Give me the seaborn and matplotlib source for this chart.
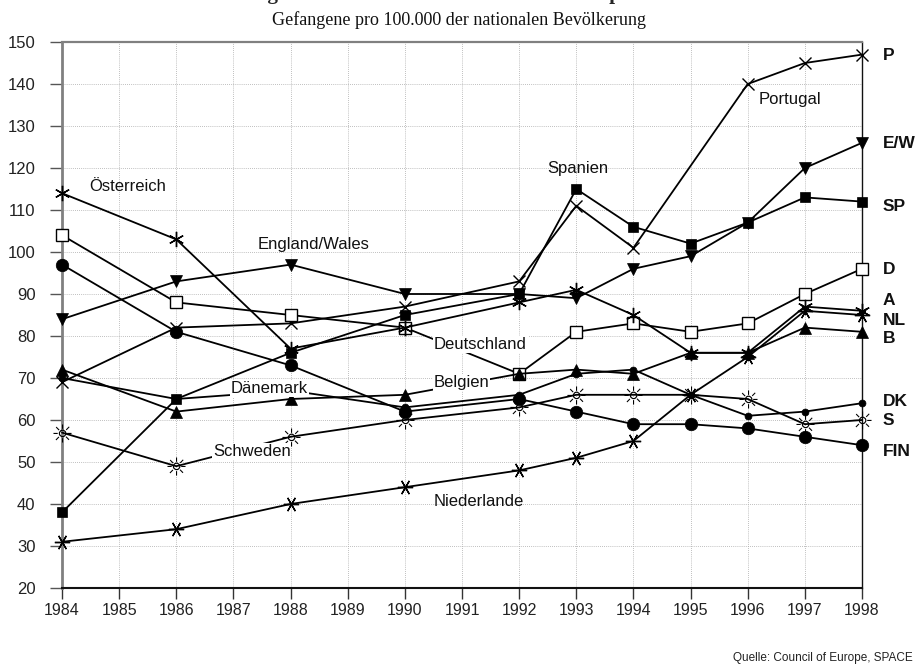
import numpy as np
import pandas as pd
import matplotlib
matplotlib.use("Agg")
import matplotlib.pyplot as plt
import seaborn as sns

# ---------------- data ----------------
years = [1984, 1986, 1988, 1990, 1992, 1993, 1994, 1995, 1996, 1997, 1998]
portugal = [69, 82, 83, 87, 93, 111, 101, None, 140, 145, 147]
england_wales = [84, 93, 97, 90, 90, 89, 96, 99, 107, 120, 126]
spanien = [38, 65, 76, 85, 90, 115, 106, 102, 107, 113, 112]
deutschland = [104, 88, 85, 82, 71, 81, 83, 81, 83, 90, 96]
oesterreich = [114, 103, 77, 82, 88, 91, 85, 76, 76, 87, 86]
niederlande = [31, 34, 40, 44, 48, 51, 55, 66, 75, 86, 85]
belgien = [72, 62, 65, 66, 71, 72, 71, 76, 76, 82, 81]
daenemark = [70, 65, 67, 63, 66, 71, 72, 66, 61, 62, 64]
schweden = [57, 49, 56, 60, 63, 66, 66, 66, 65, 59, 60]
finnland = [97, 81, 73, 62, 65, 62, 59, 59, 58, 56, 54]

x_ticks = list(range(1984, 1999))
y_ticks = list(range(20, 151, 10))

end_codes = ["P", "E/W", "SP", "D", "A", "NL", "B", "DK", "S", "FIN"]
end_code_y = [146.9, 125.9, 110.8, 95.9, 88.4, 83.8, 79.4, 64.4, 59.8, 52.5]

inline_names = ["Österreich", "England/Wales", "Spanien", "Portugal", "Deutschland",
                "Belgien", "Dänemark", "Schweden", "Niederlande"]
inline_x = [1985.15, 1988.41, 1993.03, 1996.74, 1991.32, 1990.99, 1987.63, 1987.32, 1991.30]
inline_y = [115.6, 101.9, 120.0, 136.4, 77.9, 68.9, 67.5, 52.45, 40.5]
inline_boxed = [False, False, False, False, True, True, True, True, False]

title = "Gefangenenraten in zehn Ländern Westeuropas"
subtitle = "Gefangene pro 100.000 der nationalen Bevölkerung"
source = "Quelle: Council of Europe, SPACE"

# ---------------- style ----------------
sns.set_style("white")
plt.rcParams["font.family"] = ["Liberation Sans", "DejaVu Sans"]

fig = plt.figure(figsize=(9.17, 6.68), dpi=100)
ax = fig.add_axes([62 / 917, 1 - 588 / 668, 800 / 917, 546 / 668])

series = [
    (portugal, dict(marker="x", markersize=9, markeredgewidth=1.0, markerfacecolor="black")),
    (england_wales, dict(marker="v", markersize=9, markeredgewidth=0.5, markerfacecolor="black")),
    (spanien, dict(marker="s", markersize=7, markeredgewidth=0.5, markerfacecolor="black")),
    (deutschland, dict(marker="s", markersize=9, markeredgewidth=1.0, markerfacecolor="white")),
    (oesterreich, dict(marker=(6, 2, 0), markersize=11, markeredgewidth=1.0, markerfacecolor="black")),
    (niederlande, dict(marker=(6, 2, 90), markersize=11, markeredgewidth=1.0, markerfacecolor="black")),
    (belgien, dict(marker="^", markersize=9, markeredgewidth=0.5, markerfacecolor="black")),
    (daenemark, dict(marker="o", markersize=5, markeredgewidth=0.5, markerfacecolor="black")),
    (schweden, dict(marker="$\u263c$", markersize=13, markeredgewidth=0.0, markerfacecolor="black")),
    (finnland, dict(marker="o", markersize=9, markeredgewidth=0.5, markerfacecolor="black")),
]

for vals, st in series:
    df = pd.DataFrame({"Jahr": years, "Rate": vals}).dropna()
    sns.lineplot(data=df, x="Jahr", y="Rate", ax=ax, color="black", linewidth=1.3,
                 markeredgecolor="black", clip_on=False, zorder=3, **st)

ax.set_xlim(1984, 1998)
ax.set_ylim(20, 150)
ax.set_xticks(x_ticks)
ax.set_yticks(y_ticks)
ax.set_xticklabels([str(t) for t in x_ticks])
ax.set_yticklabels([str(t) for t in y_ticks])
ax.set_xlabel("")
ax.set_ylabel("")

ax.grid(True, which="major", linestyle=(0, (1, 1.5)), linewidth=0.6, color="#aaaaaa", zorder=0)
ax.set_axisbelow(True)

ax.tick_params(axis="y", direction="out", length=9, width=1.0, color="#555555",
               pad=10, labelsize=12, labelcolor="#222222", left=True)
ax.tick_params(axis="x", direction="out", length=8, width=1.0, color="#333333",
               pad=3, labelsize=11.5, labelcolor="#222222", bottom=True)

for side, col, lw in [("left", "#808080", 2.0), ("top", "#808080", 1.6),
                      ("bottom", "#111111", 1.5), ("right", "#111111", 1.0)]:
    ax.spines[side].set_visible(True)
    ax.spines[side].set_color(col)
    ax.spines[side].set_linewidth(lw)

# right-side codes
for code, yv in zip(end_codes, end_code_y):
    ax.text(1998.36, yv, code, ha="left", va="center", fontsize=12.5,
            fontweight="bold", color="#111111", clip_on=False)

# inline labels
for name, xv, yv, boxed in zip(inline_names, inline_x, inline_y, inline_boxed):
    kw = {}
    if boxed:
        kw["bbox"] = dict(boxstyle="square,pad=0.05", facecolor="white", edgecolor="none")
    ax.text(xv, yv, name, ha="center", va="center", fontsize=12, color="#111111",
            zorder=5, **kw)

# titles and source (main title is cut off at the top edge, as in the original)
fig.text(213 / 917, 1.0 + 1 / 668, title, ha="left", va="baseline",
         fontsize=15, fontweight="bold", family=["Liberation Serif", "DejaVu Serif"])
fig.text(0.5, 1 - 20 / 668, subtitle, ha="center", va="center",
         fontsize=13, family=["Liberation Serif", "DejaVu Serif"], color="#111111")
fig.text(913 / 917, 1 - 658 / 668, source, ha="right", va="center",
         fontsize=8.5, color="#222222")

fig.savefig("out.png", dpi=100)
